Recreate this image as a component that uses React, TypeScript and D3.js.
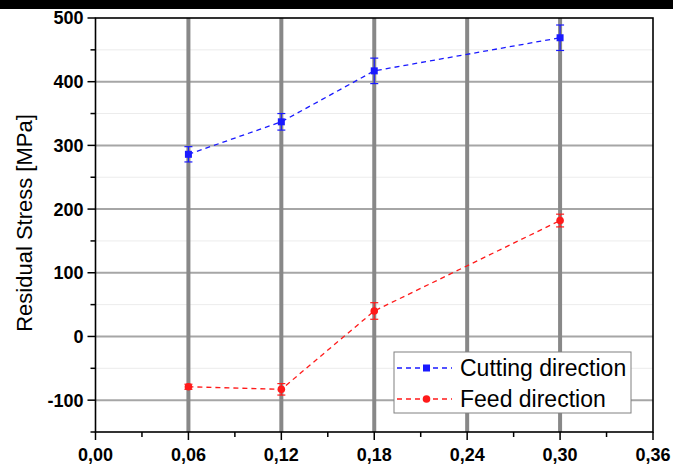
import { scaleLinear, line, range } from 'd3';

const feedRates = [0.06, 0.12, 0.18, 0.3];
const cuttingStress = [286, 337, 417, 469];
const cuttingErr = [12, 13, 20, 20];
const feedStress = [-79, -83, 40, 182];
const feedErr = [4, 9, 13, 10];

const xTicks = [0, 0.06, 0.12, 0.18, 0.24, 0.3, 0.36];
const xTickLabels = ['0,00', '0,06', '0,12', '0,18', '0,24', '0,30', '0,36'];
const xGrid = [0.06, 0.12, 0.18, 0.24, 0.3];
const yTicks = [-100, 0, 100, 200, 300, 400, 500];
const yMinor = [-150, -50, 50, 150, 250, 350, 450];

const width = 673;
const height = 467;
const margin = { top: 18, right: 20, bottom: 35, left: 95.5 };
const font = '"Liberation Sans", Arial, sans-serif';

const BLUE = '#1a1aff';
const RED = '#ff1a1a';

function App() {
  const xScale = scaleLinear().domain([0, 0.36]).range([margin.left, width - margin.right]);
  const yScale = scaleLinear().domain([-150, 500]).range([height - margin.bottom, margin.top]);
  const x0 = xScale(0);
  const x1 = xScale(0.36);
  const y0 = yScale(-150);
  const y1 = yScale(500);

  const path = line<number>()
    .x((_, i) => xScale(feedRates[i]))
    .y(d => yScale(d));

  const series = [
    { name: 'Cutting direction', values: cuttingStress, err: cuttingErr, color: BLUE, square: true },
    { name: 'Feed direction', values: feedStress, err: feedErr, color: RED, square: false },
  ];

  const minorX = range(0.03, 0.36, 0.06);

  return (
    <svg width={width} height={height} style={{ position: 'absolute', left: 0, top: 0, background: '#fff' }}>
      <rect x={0} y={0} width={width} height={9} fill='#000' />
      {yMinor.filter(v => v > -150).map(v => (
        <line key={'ym' + v} x1={x0} x2={x1} y1={yScale(v)} y2={yScale(v)}
          stroke='#d8d8d8' strokeWidth={1} strokeDasharray='1,1' />
      ))}
      {yTicks.filter(v => v < 500).map(v => (
        <line key={'yg' + v} x1={x0} x2={x1} y1={yScale(v)} y2={yScale(v)} stroke='#a6a6a6' strokeWidth={2} />
      ))}
      {xGrid.map(v => (
        <line key={'xg' + v} x1={xScale(v)} x2={xScale(v)} y1={y1} y2={y0} stroke='#888' strokeWidth={4} />
      ))}

      {/* frame */}
      <rect x={x0} y={y1} width={x1 - x0} height={y0 - y1} fill='none' stroke='#000' strokeWidth={1.6} />

      {/* x axis ticks */}
      {xTicks.map((v, i) => (
        <g key={'xt' + v} transform={`translate(${xScale(v)},${y0})`}>
          <line y2={8} stroke='#000' strokeWidth={1.5} />
          <text y={29} textAnchor='middle' fontFamily={font} fontWeight='bold' fontSize={18}>
            {xTickLabels[i]}
          </text>
        </g>
      ))}
      {minorX.map(v => (
        <line key={'xm' + v} x1={xScale(v)} x2={xScale(v)} y1={y0} y2={y0 + 5} stroke='#000' strokeWidth={1.5} />
      ))}

      {/* y axis ticks */}
      {yTicks.map(v => (
        <g key={'yt' + v} transform={`translate(${x0},${yScale(v)})`}>
          <line x2={-8} stroke='#000' strokeWidth={1.5} />
          <text x={-12} dy='0.36em' textAnchor='end' fontFamily={font} fontWeight='bold' fontSize={18}>
            {v}
          </text>
        </g>
      ))}
      {yMinor.map(v => (
        <line key={'ymt' + v} x1={x0} x2={x0 - 5} y1={yScale(v)} y2={yScale(v)} stroke='#000' strokeWidth={1.5} />
      ))}

      <text transform={`translate(32,${(y0 + y1) / 2 - 2}) rotate(-90)`} textAnchor='middle'
        fontFamily={font} fontSize={22}>
        Residual Stress [MPa]
      </text>

      {series.map(s => (
        <g key={s.name}>
          <path d={path(s.values) ?? ''} fill='none' stroke={s.color} strokeWidth={1.3} strokeDasharray='5,4' />
          {s.values.map((v, i) => {
            const cx = xScale(feedRates[i]);
            const yt = yScale(v + s.err[i]);
            const yb = yScale(v - s.err[i]);
            return (
              <g key={i}>
                <line x1={cx} x2={cx} y1={yt} y2={yb} stroke={s.color} strokeWidth={1.2} />
                <line x1={cx - 4} x2={cx + 4} y1={yt} y2={yt} stroke={s.color} strokeWidth={1.2} />
                <line x1={cx - 4} x2={cx + 4} y1={yb} y2={yb} stroke={s.color} strokeWidth={1.2} />
                {s.square
                  ? <rect x={cx - 3.5} y={yScale(v) - 3.5} width={7} height={7} fill={s.color} />
                  : <circle cx={cx} cy={yScale(v)} r={3.8} fill={s.color} />}
              </g>
            );
          })}
        </g>
      ))}

      {/* legend */}
      <g transform='translate(394,352)'>
        <rect x={0} y={0} width={237} height={61} fill='#fff' stroke='#808080' strokeWidth={1} />
        {series.map((s, i) => (
          <g key={s.name} transform={`translate(0,${16 + i * 31})`}>
            <line x1={3} x2={58} y1={0} y2={0} stroke={s.color} strokeWidth={1.3} strokeDasharray='5,4' />
            {s.square
              ? <rect x={29} y={-3.5} width={7} height={7} fill={s.color} />
              : <circle cx={32.5} cy={0} r={3.8} fill={s.color} />}
            <text x={66} y={0} dy='0.35em' fontFamily={font} fontSize={23}>{s.name}</text>
          </g>
        ))}
      </g>
    </svg>
  );
}

export default App;
